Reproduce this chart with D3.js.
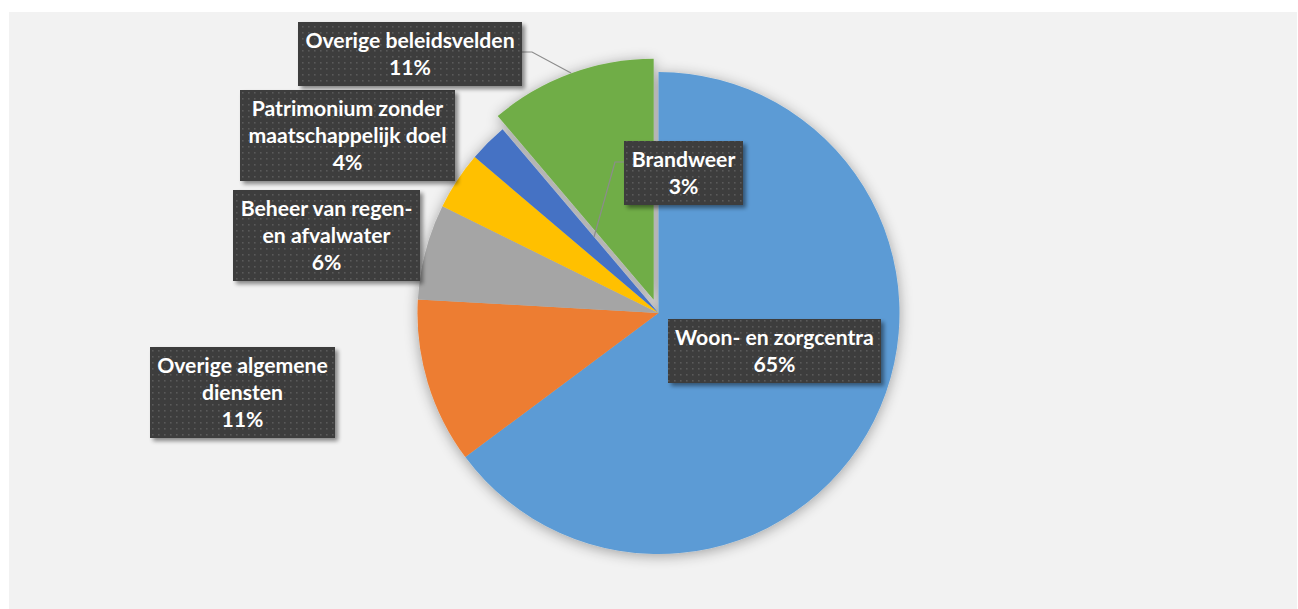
<!DOCTYPE html>
<html>
<head>
<meta charset="utf-8">
<script src="https://cdn.jsdelivr.net/npm/d3@7"></script>
<style>
  html, body { margin: 0; padding: 0; background: #ffffff; }
  svg { display: block; }
</style>
</head>
<body>
<svg id="chart" width="1298" height="609"></svg>
<script>
// ---- data ----
const categories = [
  "Woon- en zorgcentra",
  "Overige algemene diensten",
  "Beheer van regen- en afvalwater",
  "Patrimonium zonder maatschappelijk doel",
  "Brandweer",
  "Overige beleidsvelden"
];
const values = [64.8, 11.1, 6.4, 3.9, 2.6, 11.2];
const labelLines = [
  ["Woon- en zorgcentra"],
  ["Overige algemene", "diensten"],
  ["Beheer van regen-", "en afvalwater"],
  ["Patrimonium zonder", "maatschappelijk doel"],
  ["Brandweer"],
  ["Overige beleidsvelden"]
];
const explodedIndex = 5;

// ---- styles / layout ----
const colors = ["#5b9bd5", "#ed7d31", "#a5a5a5", "#ffc000", "#4472c4", "#70ad47"];
const W = 1298, H = 609;
const cx = 658.5, cy = 313, R = 241, explode = 14;
const boxes = [ // cx, top, width
  {x: 774.5, y: 319, w: 213},
  {x: 242.5, y: 347, w: 185},
  {x: 326.5, y: 190, w: 187},
  {x: 347.5, y: 90,  w: 215},
  {x: 683.5, y: 141, w: 119},
  {x: 410,   y: 22,  w: 224}
];
const leaders = {
  5: [[522, 52], [532, 52], [571, 73]],
  4: [[624, 162], [615, 162], [594, 237]]
};

const svg = d3.select("#chart");
const defs = svg.append("defs");

// pie shadow
const f1 = defs.append("filter").attr("id", "pieShadow")
  .attr("x", "-20%").attr("y", "-20%").attr("width", "140%").attr("height", "140%");
f1.append("feGaussianBlur").attr("in", "SourceAlpha").attr("stdDeviation", 7).attr("result", "b");
f1.append("feOffset").attr("in", "b").attr("dx", 0).attr("dy", 2).attr("result", "o");
f1.append("feComponentTransfer").attr("in", "o").attr("result", "s")
  .append("feFuncA").attr("type", "linear").attr("slope", 0.35);
const m1 = f1.append("feMerge");
m1.append("feMergeNode").attr("in", "s");
m1.append("feMergeNode").attr("in", "SourceGraphic");

// box shadow
const f2 = defs.append("filter").attr("id", "boxShadow")
  .attr("x", "-20%").attr("y", "-30%").attr("width", "140%").attr("height", "160%");
f2.append("feGaussianBlur").attr("in", "SourceAlpha").attr("stdDeviation", 2).attr("result", "b");
f2.append("feOffset").attr("in", "b").attr("dx", 3).attr("dy", 3).attr("result", "o");
f2.append("feComponentTransfer").attr("in", "o").attr("result", "s")
  .append("feFuncA").attr("type", "linear").attr("slope", 0.45);
const m2 = f2.append("feMerge");
m2.append("feMergeNode").attr("in", "s");
m2.append("feMergeNode").attr("in", "SourceGraphic");

// dotted pattern
const pat = defs.append("pattern").attr("id", "dots")
  .attr("patternUnits", "userSpaceOnUse").attr("width", 6).attr("height", 6);
pat.append("rect").attr("width", 6).attr("height", 6).attr("fill", "#3c3c3c");
pat.append("rect").attr("x", 2).attr("y", 2).attr("width", 1.6).attr("height", 1.6).attr("fill", "#5a5a5a");

// panel
svg.append("rect").attr("x", 9).attr("y", 12).attr("width", W - 10).attr("height", H - 12)
  .attr("fill", "#f2f2f2");

// pie
const pie = d3.pie().sort(null).value(d => d).startAngle(0).endAngle(2 * Math.PI);
const arcs = pie(values);
const arc = d3.arc().innerRadius(0).outerRadius(R);

const g = svg.append("g").attr("transform", `translate(${cx},${cy})`)
  .attr("filter", "url(#pieShadow)");
g.selectAll("path").data(arcs).enter().append("path")
  .attr("d", arc)
  .attr("fill", (d, i) => colors[i])
  .attr("transform", (d, i) => {
    if (i !== explodedIndex) return null;
    const a = (d.startAngle + d.endAngle) / 2;
    return `translate(${Math.sin(a) * explode},${-Math.cos(a) * explode})`;
  });

// leader lines
Object.keys(leaders).forEach(k => {
  svg.append("polyline")
    .attr("points", leaders[k].map(p => p.join(",")).join(" "))
    .attr("fill", "none").attr("stroke", "#8c8c8c").attr("stroke-width", 1.2);
});

// labels
const lineH = 27;
const lg = svg.append("g");
arcs.forEach((d, i) => {
  const b = boxes[i];
  const lines = labelLines[i].concat([Math.round(values[i]) + "%"]);
  const h = lines.length * lineH + 10;
  const gg = lg.append("g");
  gg.append("rect")
    .attr("x", b.x - b.w / 2).attr("y", b.y).attr("width", b.w).attr("height", h)
    .attr("fill", "url(#dots)").attr("filter", "url(#boxShadow)");
  gg.selectAll("text").data(lines).enter().append("text")
    .attr("x", b.x).attr("y", (t, j) => b.y + 26 + j * lineH)
    .attr("text-anchor", "middle")
    .attr("font-family", "Lato, 'Open Sans', sans-serif")
    .attr("font-weight", "bold")
    .attr("font-size", 21.2)
    .attr("fill", "#ffffff")
    .text(t => t);
});
</script>
</body>
</html>
